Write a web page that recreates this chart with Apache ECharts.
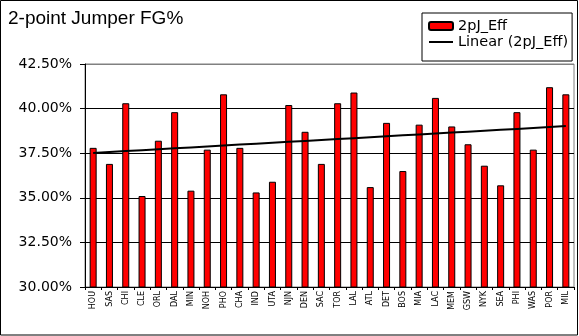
<!DOCTYPE html>
<html>
<head>
<meta charset="utf-8">
<script src="https://cdn.jsdelivr.net/npm/echarts@6/dist/echarts.min.js"></script>
<style>
html,body{margin:0;padding:0;background:#fff;}
#chart{width:579px;height:336px;}
</style>
</head>
<body>
<div id="chart"></div>
<script>
const categories = ['HOU','SAS','CHI','CLE','ORL','DAL','MIN','NOH','PHO','CHA','IND','UTA','NJN','DEN','SAC','TOR','LAL','ATL','DET','BOS','MIA','LAC','MEM','GSW','NYK','SEA','PHI','WAS','POR','MIL'];
const effValues = [37.8,36.9,40.3,35.1,38.2,39.8,35.4,37.7,40.8,37.8,35.3,35.9,40.2,38.7,36.9,40.3,40.9,35.6,39.2,36.5,39.1,40.6,39.0,38.0,36.8,35.7,39.8,37.7,41.2,40.8];
const yTicks = [30, 32.5, 35, 37.5, 40, 42.5];
const titleText = '2-point Jumper FG%';
const seriesNames = ['2pJ_Eff', 'Linear (2pJ_Eff)'];

// least-squares linear trend of the bar series (as Excel's "Linear" trendline)
const n = effValues.length;
let sx = 0, sy = 0, sxx = 0, sxy = 0;
effValues.forEach((v, i) => { const x = i + 1; sx += x; sy += v; sxx += x * x; sxy += x * v; });
const slope = (n * sxy - sx * sy) / (n * sxx - sx * sx);
const intercept = (sy - slope * sx) / n;
const trendValues = effValues.map((v, i) => +(intercept + slope * (i + 1)).toFixed(4));

const chart = echarts.init(document.getElementById('chart'), null, {renderer: 'canvas'});
chart.setOption({
  backgroundColor: '#fff',
  animation: false,
  title: {
    text: titleText,
    left: 8, top: 9, padding: 0,
    textStyle: {fontFamily: 'Liberation Sans', fontSize: 19, fontWeight: 'normal', color: '#000'}
  },
  legend: {
    orient: 'vertical',
    left: 422, top: 13,
    padding: [5, 4, 11, 6],
    itemWidth: 24, itemHeight: 8, itemGap: 0,
    borderColor: '#000', borderWidth: 1,
    textStyle: {fontFamily: 'DejaVu Sans', fontSize: 14.5, color: '#000', lineHeight: 16},
    data: [
      {name: seriesNames[0]},
      {name: seriesNames[1], itemStyle: {opacity: 0}}
    ]
  },
  grid: {
    left: 85, right: 5, top: 64, bottom: 49,
    show: true, borderColor: '#808080', borderWidth: 1, containLabel: false
  },
  xAxis: {
    type: 'category',
    data: categories,
    boundaryGap: true,
    axisLine: {lineStyle: {color: '#000', width: 1}},
    axisTick: {show: true, interval: 0, length: 3, lineStyle: {color: '#000'}},
    axisLabel: {interval: 0, rotate: 90, margin: 4, fontFamily: 'DejaVu Sans', fontSize: 8, color: '#000'},
    splitLine: {show: false}
  },
  yAxis: {
    type: 'value',
    min: yTicks[0], max: yTicks[yTicks.length - 1], interval: 2.5,
    axisLine: {show: true, lineStyle: {color: '#000', width: 1}},
    axisTick: {show: true, length: 5, lineStyle: {color: '#000'}},
    axisLabel: {
      margin: 13, fontFamily: 'DejaVu Sans', fontSize: 14, color: '#000',
      formatter: v => v.toFixed(2) + '%'
    },
    splitLine: {show: true, lineStyle: {color: ['#000','#000','#000','#000','#000','#808080'], width: 1}}
  },
  series: [
    {
      name: seriesNames[0],
      type: 'bar',
      data: effValues,
      barWidth: 7,
      itemStyle: {color: '#ff0000', borderColor: '#000', borderWidth: 1},
      z: 2
    },
    {
      name: seriesNames[1],
      type: 'line',
      data: trendValues,
      symbol: 'none',
      showSymbol: false,
      lineStyle: {color: '#000', width: 2},
      itemStyle: {color: '#000'},
      z: 3
    }
  ],
  graphic: [
    {
      type: 'rect', silent: true, z: 100,
      shape: {x: 0.5, y: 0.5, width: 577, height: 334.5},
      style: {fill: 'none', stroke: '#000', lineWidth: 1}
    }
  ]
});
</script>
</body>
</html>
